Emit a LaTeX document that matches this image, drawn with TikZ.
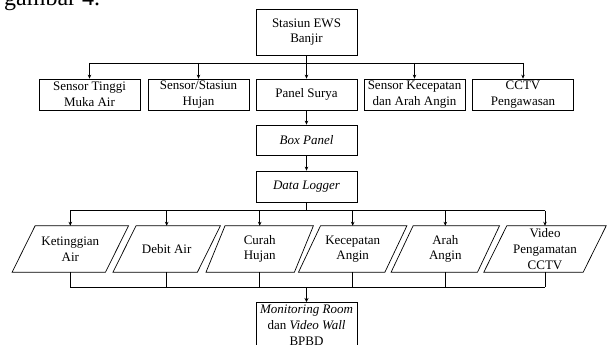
\documentclass[tikz,border=0pt]{standalone}
\usepackage{fontspec}
\setmainfont{Liberation Serif}
\usetikzlibrary{arrows.meta}
\begin{document}
\begin{tikzpicture}[x=1pt,y=-1pt,
  font=\fontsize{13}{15.6}\selectfont,
  box/.style={draw, line width=0.7pt, minimum width=101pt, inner sep=0pt, align=center},
  pnode/.style={inner sep=0pt, minimum height=46pt, align=center},
  ln/.style={line width=0.7pt},
  stem/.style={line width=1.4pt},
  arr/.style={line width=0.7pt, -{Stealth[length=4pt,width=3.5pt]}},
  tarr/.style={line width=1.4pt, -{Stealth[length=4pt,width=4pt]}}]
\useasboundingbox (0,0) rectangle (611,345);
\clip (0,0) rectangle (611,345);
% caption fragment
\node[anchor=base west, inner sep=0pt, font=\fontsize{24}{28}\selectfont] (cap) at (4,5.5) {gambar 4.};
% top
\node[box, minimum height=46pt] (top) at (306.5,32) {Stasiun EWS\\Banjir};
% row 2
\node[box, minimum height=31pt] (s1) at (89.5,94.5) {Sensor Tinggi\\Muka Air};
\node[box, minimum height=31pt] (s2) at (198.5,94.5) {Sensor/Stasiun\\Hujan};
\node[box, minimum height=31pt] (s3) at (306.5,94.5) {Panel Surya};
\node[box, minimum height=31pt] (s4) at (414.5,94.5) {Sensor Kecepatan\\dan Arah Angin};
\node[box, minimum height=31pt] (s5) at (523,94.5) {CCTV\\Pengawasan};
% chain
\node[box, minimum height=30pt] (bp) at (306.5,140) {\textit{Box Panel}};
\node[box, minimum height=31pt] (dl) at (306.5,186.5) {\textit{Data Logger}};
% parallelograms
\node[pnode, minimum width=93pt] (p1) at (70.3,249) {Ketinggian\\Air};
\node[pnode, minimum width=84pt] (p2) at (166.7,249) {Debit Air};
\node[pnode, minimum width=88pt] (p3) at (259.7,249) {Curah\\Hujan};
\node[pnode, minimum width=86pt] (p4) at (352.7,249) {Kecepatan\\Angin};
\node[pnode, minimum width=86pt] (p5) at (445.3,249) {Arah\\Angin};
\node[pnode, minimum width=99pt] (p6) at (545,249) {Video\\Pengamatan\\CCTV};
\foreach \n/\s in {p1/23,p2/23,p3/19,p4/22,p5/22,p6/23}{
  \draw[ln] ([xshift=\s/2]\n.north west) -- ([xshift=\s/2]\n.north east)
    -- ([xshift=-\s/2]\n.south east) -- ([xshift=-\s/2]\n.south west) -- cycle;
}
% bottom
\node[box, anchor=north, inner ysep=3pt] (mon) at (306.5,302) {\textit{Monitoring Room}\\dan \textit{Video Wall}\\BPBD};
% connectors
\coordinate (j1) at (306.5,63);
\coordinate (j2) at (306.5,210.7);
\coordinate (j3) at (306.5,287);
\draw[stem] (top.south) -- (j1);
\draw[ln] (s1.north |- j1) -- (s5.north |- j1);
\foreach \n in {s1,s2,s3,s4,s5}{\draw[arr] (\n.north |- j1) -- (\n.north);}
\draw[arr] (s3) -- (bp);
\draw[arr] (bp) -- (dl);
\draw[stem] (dl.south) -- (j2);
\draw[ln] (p1.north |- j2) -- (p6.north |- j2);
\foreach \n in {p1,p2,p3,p4,p5,p6}{\draw[arr] (\n.north |- j2) -- (\n.north);}
\foreach \n in {p1,p2,p3,p4,p5,p6}{\draw[ln] (\n.south) -- (\n.south |- j3);}
\draw[ln] (p1.south |- j3) -- (p6.south |- j3);
\draw[tarr] (j3) -- (mon.north);
\end{tikzpicture}
\end{document}
